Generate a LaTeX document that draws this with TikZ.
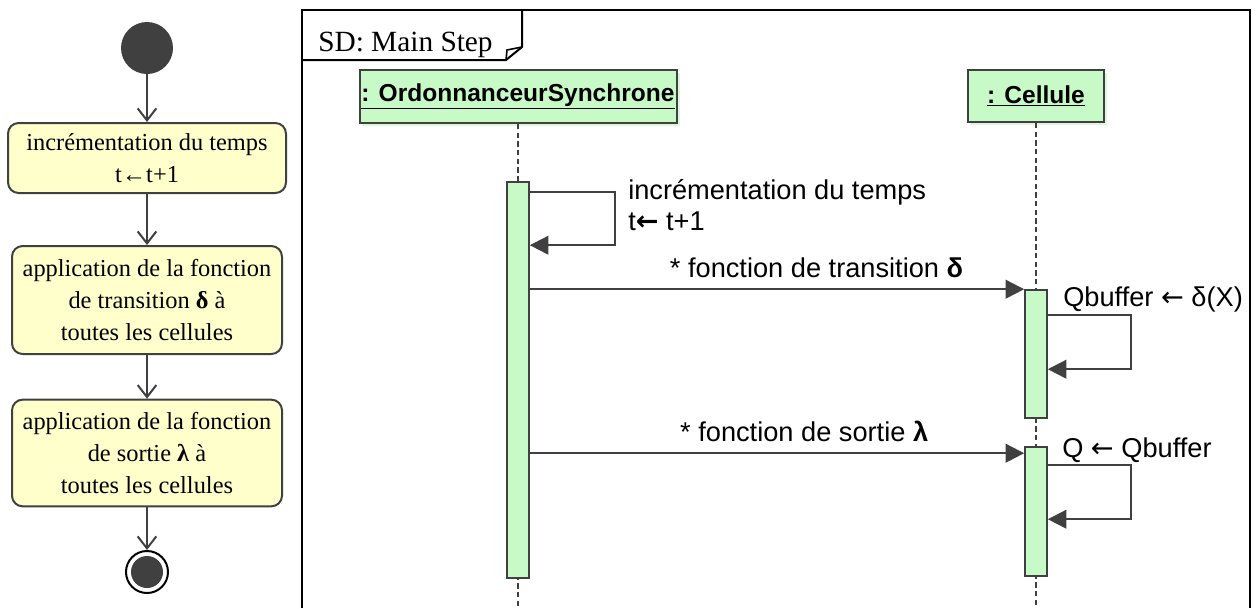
\documentclass[tikz,border=0pt]{standalone}
\usepackage{fontspec}
\setmainfont{Liberation Serif}
\setsansfont{Liberation Sans}
\newfontfamily\arrowfont{DejaVu Sans}
\usetikzlibrary{positioning, arrows.meta, shadows}
\definecolor{umlLine}{RGB}{64,64,64}
\definecolor{actFill}{RGB}{255,255,204}
\definecolor{objFill}{RGB}{200,250,200}
\definecolor{objShadow}{RGB}{222,245,222}
\newcommand{\getsArrow}{{\arrowfont ←}}

\begin{document}
\begin{tikzpicture}[x=0.75pt, y=-0.75pt,
  action/.style={draw=umlLine, line width=1.5pt, fill=actFill, rounded corners=8pt,
    align=center, inner sep=0pt, font=\fontsize{18.3}{24}\selectfont},
  startdot/.style={circle, fill=umlLine, inner sep=0pt, minimum size=39pt},
  stopdot/.style={circle, draw=black, line width=1.5pt, fill=white, inner sep=0pt, minimum size=31.5pt,
    path picture={\fill[umlLine] (path picture bounding box.center) circle (12pt);}},
  flow/.style={draw=umlLine, line width=1.5pt, -{Straight Barb[length=9pt, width=14pt]}},
  frameline/.style={draw=black, line width=1.5pt},
  sdtitle/.style={font=\fontsize{22}{26}\selectfont, inner sep=0pt},
  objhead/.style={draw=umlLine, line width=1.5pt, fill=objFill, inner sep=0pt,
    font=\sffamily\bfseries\fontsize{18.4}{22}\selectfont,
    drop shadow={fill=objShadow, opacity=1, shadow xshift=2.5pt, shadow yshift=-2.5pt}},
  lifeline/.style={draw=umlLine, line width=1.3pt, dash pattern=on 4pt off 2.5pt},
  actbar/.style={draw=umlLine, line width=1.2pt, fill=objFill, inner sep=0pt, minimum width=16.5pt},
  msg/.style={draw=umlLine, line width=1.6pt, -{Triangle[length=14pt, width=14pt]}},
  msgtext/.style={font=\sffamily\fontsize{20.4}{23.25}\selectfont, inner sep=0pt}
]
  \useasboundingbox (0,0) rectangle (1256,608);

  % activity flow on the left
  \node[startdot] (start) at (147,48) {};
  \node[action, minimum width=208.5pt, minimum height=52.5pt] (incr) at (147,158)
    {incrémentation du temps\\t←t+1};
  \node[action, minimum width=202.5pt, minimum height=81pt] (trans) at (147,300)
    {application de la fonction\\de transition \textbf{δ} à\\toutes les cellules};
  \node[action, minimum width=202.5pt, minimum height=80pt] (sortie) at (147,453)
    {application de la fonction\\de sortie \textbf{λ} à\\toutes les cellules};
  \node[stopdot] (stop) at (147,572) {};
  \draw[flow] (start) -- (incr);
  \draw[flow] (incr) -- (trans);
  \draw[flow] (trans) -- (sortie);
  \draw[flow] (sortie) -- (stop);

  % sequence frame
  \draw[frameline] (302,608) -- (302,10) -- (1250,10) -- (1250,608);
  \draw[frameline] (302,60) -- (506,60) -- (522,47) -- (522,10);
  \draw[frameline, line width=1.2pt] (506,60) -- (507,50) -- (522,47);
  \node[sdtitle, anchor=base west] (sd) at (318,51) {SD: Main Step};

  % lifelines
  \node[objhead, minimum width=237.75pt, minimum height=39.75pt] (ordo) at (518,96.5)
    {\underline{: OrdonnanceurSynchrone}};
  \node[objhead, minimum width=102pt, minimum height=39pt] (cell) at (1036,96)
    {\underline{: Cellule}};
  \coordinate (ordoEnd) at (518,608);
  \coordinate (cellEnd) at (1036,608);
  \draw[lifeline] (ordo.south) -- (ordoEnd);
  \draw[lifeline] (cell.south) -- (cellEnd);

  \node[actbar, minimum height=297pt] (barA) at (518,380) {};
  \node[actbar, minimum height=96pt] (barB) at (1036,354) {};
  \node[actbar, minimum height=96.75pt] (barC) at (1036,511.5) {};

  % messages
  \draw[msg] ([yshift=-8.25pt]barA.north east) -- ++(85,0) |- ([yshift=-48pt]barA.north east);
  \node[msgtext, anchor=west, align=left] (incrLbl) at (628,205)
    {incrémentation du temps\\t{\arrowfont\bfseries ←} t+1};

  \draw[msg] (barA.east |- barB.north) -- (barB.north west)
    node[msgtext, above=8pt, pos=0.58] (transLbl) {* fonction de transition \textbf{δ}};
  \draw[msg] ([yshift=-19.5pt]barB.north east) -- ++(83,0) |- ([yshift=-60pt]barB.north east);
  \node[msgtext, anchor=base west] (qbufLbl) at (1063,306) {Qbuffer \getsArrow\ δ(X)};

  \coordinate (sortieIn) at ([yshift=-5.25pt]barC.north west);
  \draw[msg] (barA.east |- sortieIn) -- (sortieIn)
    node[msgtext, above=8pt, pos=0.555] (sortieLbl) {* fonction de sortie \textbf{λ}};
  \draw[msg] ([yshift=-14.25pt]barC.north east) -- ++(83,0) |- ([yshift=-54.75pt]barC.north east);
  \node[msgtext, anchor=base west] (qLbl) at (1062,457) {Q \getsArrow\ Qbuffer};
\end{tikzpicture}
\end{document}
